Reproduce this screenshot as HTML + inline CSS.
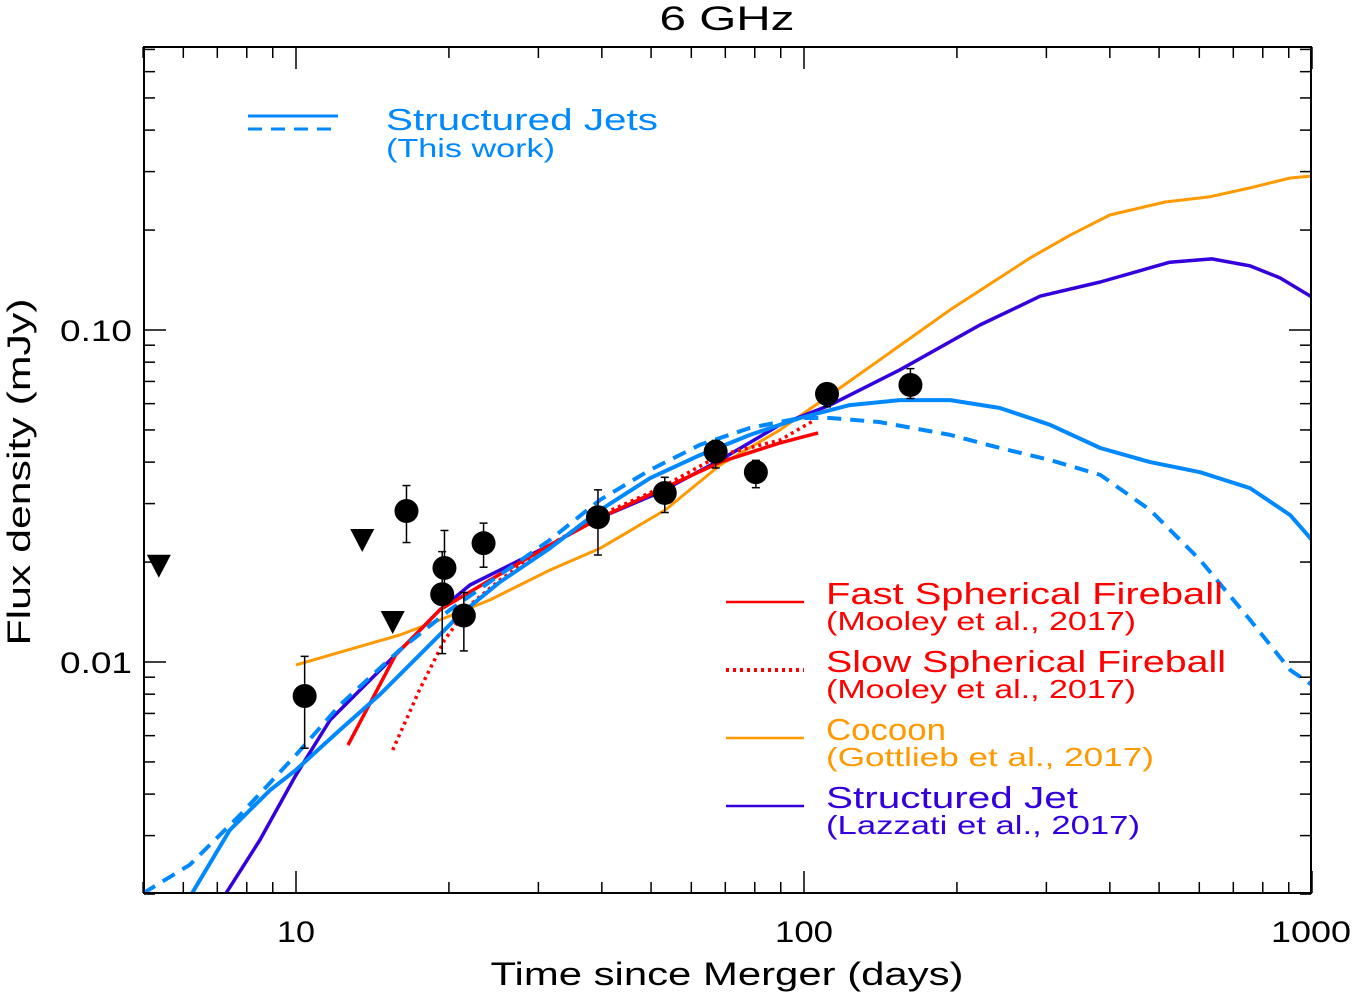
<!DOCTYPE html>
<html><head><meta charset="utf-8"><style>
html,body{margin:0;padding:0;background:#fff;}
svg{display:block;font-family:"Liberation Sans",sans-serif;}
</style></head><body>
<svg id="chart" width="1352" height="994" viewBox="0 0 1352 994"></svg>
<script>
const blueSolidT=[6.24,7.41,8.89,10,12.2,14.6,17.5,21.0,25.2,31.6,39.7,49.8,62.4,78.3,98.2,123,154.5,194,243,305,383,480,602,755,906,1000];
const blueSolidF=[0.00201,0.00312,0.00411,0.00473,0.00624,0.00796,0.0105,0.01387,0.0174,0.0220,0.0287,0.0358,0.042,0.0483,0.0543,0.0594,0.0615,0.0615,0.0582,0.0518,0.0441,0.040,0.0373,0.0334,0.0277,0.0233];
const blueDashT=[5,6.18,7.76,10,12.2,16.0,20.1,25.2,31.6,39.7,49.8,62.4,78.3,98.2,112.5,141,194,243,305,383,480,602,755,906,1000];
const blueDashF=[0.00201,0.00245,0.00346,0.00525,0.00742,0.01087,0.01436,0.0183,0.0233,0.0308,0.0379,0.0451,0.0507,0.0543,0.0543,0.0528,0.0483,0.0441,0.0406,0.0366,0.0287,0.0203,0.0134,0.00946,0.00853];
const cocoonT=[10,16.0,19.2,24.1,31.6,39.7,53.3,68.4,89.7,112.5,141,194,279,334,400,514,630,755,906,1000];
const cocoonF=[0.0098,0.01206,0.01339,0.01538,0.01892,0.0220,0.0287,0.0392,0.050,0.0637,0.0813,0.115,0.165,0.193,0.222,0.243,0.252,0.268,0.287,0.291];
const lazzatiT=[7.28,8.49,10,11.67,14.0,16.8,19.2,22.0,26.4,31.6,39.7,52.1,68.4,89.7,112.5,154.5,222,292,383,525,635,755,865,1000];
const lazzatiF=[0.00201,0.00291,0.00457,0.00669,0.00883,0.01165,0.01436,0.01706,0.0196,0.0225,0.0272,0.0325,0.0406,0.0518,0.0594,0.0759,0.1035,0.1265,0.1395,0.160,0.1637,0.156,0.1435,0.1256];
const fastT=[12.66,14.1,15.7,19.2,24.1,31.6,39.7,52.1,68.4,89.7,106.6];
const fastF=[0.00562,0.00769,0.0105,0.01436,0.01766,0.0225,0.0272,0.033,0.040,0.0457,0.049];
const slowT=[15.5,17.5,19.6,22.0,25.2,31.6,39.7,52.1,68.4,89.7,105];
const slowF=[0.00543,0.00824,0.01165,0.01486,0.01766,0.0225,0.0277,0.0334,0.042,0.0466,0.0536];
const obsT=[10.4,16.5,19.6,19.4,21.4,23.4,39.3,53.2,67.0,80.4,111,162];
const obsF=[0.0079,0.0285,0.0192,0.016,0.0138,0.0228,0.0273,0.0323,0.043,0.0373,0.0642,0.0683];
const obsHi=[0.0104,0.034,0.0249,0.0215,0.0162,0.0262,0.0330,0.0360,0.0465,0.0405,0.0688,0.0765];
const obsLo=[0.0055,0.0229,0.0165,0.0106,0.0108,0.0193,0.0210,0.0282,0.0384,0.0335,0.0587,0.0622];
const limT=[5.37,13.5,15.5];
const limF=[0.0195,0.0233,0.0132];
const xTickVals=[10,100,1000];
const xTickLabels=["10","100","1000"];
const yTickVals=[0.01,0.1];
const yTickLabels=["0.01","0.10"];

const NS="http://www.w3.org/2000/svg";
const svg=document.getElementById('chart');
const L=144,R=1311,T=47,B=893;
function X(t){return 296+508*(Math.log10(t)-1);}
function Y(f){return 330-332*(Math.log10(f)+1);}
function mk(tag,attrs,parent){const e=document.createElementNS(NS,tag);for(const k in attrs)e.setAttribute(k,attrs[k]);(parent||svg).appendChild(e);return e;}

const defs=mk('defs',{});
const cp=mk('clipPath',{id:'clip'},defs);
mk('rect',{x:L,y:T,width:R-L,height:B-T},cp);
const plot=mk('g',{'clip-path':'url(#clip)'});



function line(ts,fs,color,w,dash,name){
  const d=ts.map((t,i)=>(i?'L':'M')+X(t).toFixed(1)+' '+Y(fs[i]).toFixed(1)).join(' ');
  const p=mk('path',{d:d,fill:'none',stroke:color,'stroke-width':w,'stroke-dasharray':dash||'none','stroke-linejoin':'round'},plot);
  
  
}
line(cocoonT,cocoonF,'#ff9900',3,null,'cocoon-curve');
line(lazzatiT,lazzatiF,'#3300dd',3.5,null,'lazzati-jet-curve');
line(fastT,fastF,'#ff0000',3.5,null,'fast-fireball-curve');
line(slowT,slowF,'#ff0000',3.5,'3 4','slow-fireball-curve');
line(blueSolidT,blueSolidF,'#0088ff',4,null,'structured-jet-solid-curve');
line(blueDashT,blueDashF,'#0088ff',4,'14 9','structured-jet-dashed-curve');

obsT.forEach((t,i)=>{
  const x=X(t);
  const g=mk('g',{},plot);
  
  
  mk('line',{x1:x,x2:x,y1:Y(obsHi[i]),y2:Y(obsLo[i]),stroke:'#000','stroke-width':1.5},g);
  mk('line',{x1:x-4,x2:x+4,y1:Y(obsHi[i]),y2:Y(obsHi[i]),stroke:'#000','stroke-width':1.5},g);
  mk('line',{x1:x-4,x2:x+4,y1:Y(obsLo[i]),y2:Y(obsLo[i]),stroke:'#000','stroke-width':1.5},g);
  mk('circle',{cx:x,cy:Y(obsF[i]),r:12,fill:'#000'},g);
});
limT.forEach((t,i)=>{
  const x=X(t),y=Y(limF[i]);
  const p=mk('path',{d:`M${x-12} ${y-11} L${x+12} ${y-11} L${x} ${y+12} Z`,fill:'#000'},plot);
  
  
});

const fr=mk('rect',{x:L,y:T,width:R-L,height:B-T,fill:'none',stroke:'#000','stroke-width':2});


const ticks=mk('g',{stroke:'#000','stroke-width':1.5});


for(let dec=1;dec<=1000;dec*=10){
  for(let m=1;m<10;m++){
    const t=dec*m; if(t<5||t>1000) continue;
    const x=X(t), len=(m===1)?22:11;
    mk('line',{x1:x,x2:x,y1:B,y2:B-len},ticks);
    mk('line',{x1:x,x2:x,y1:T,y2:T+len},ticks);
  }
}
for(let dec=0.001;dec<1;dec*=10){
  for(let m=1;m<10;m++){
    const f=dec*m; if(f<0.00199||f>0.72) continue;
    const y=Y(f), len=(m===1)?22:11;
    mk('line',{x1:L,x2:L+len,y1:y,y2:y},ticks);
    mk('line',{x1:R,x2:R-len,y1:y,y2:y},ticks);
  }
}
function txt(s,x,y,size,color,anchor,name,len,rot){
  const e=mk('text',{x:x,y:y,'font-size':size,fill:color,'text-anchor':anchor||'start'});
  if(len){e.setAttribute('textLength',len);e.setAttribute('lengthAdjust','spacingAndGlyphs');}
  if(rot) e.setAttribute('transform',`rotate(-90 ${x} ${y})`);
  e.textContent=s;
  
  
  return e;
}
const xLen=[38,58,80];
xTickVals.forEach((v,i)=>txt(xTickLabels[i],X(v)+ (i===2?-1:0),942,30,'#000','middle','x-tick-label',xLen[i]));
yTickVals.forEach((v,i)=>txt(yTickLabels[i],132,Y(v)+11,30,'#000','end','y-tick-label',72));
txt('Time since Merger (days)',727,985,32,'#000','middle','x-axis-title',473);
txt('Flux density (mJy)',30,472,32,'#000','middle','y-axis-title',347,true);
txt('6 GHz',727,30,34,'#000','middle','chart-title',135);

function lg(x1,x2,y,color,w,dash,name){
  const e=mk('line',{x1:x1,x2:x2,y1:y,y2:y,stroke:color,'stroke-width':w,'stroke-dasharray':dash||'none'});
  
  
}
lg(248,338,116,'#0088ff',3,null,'legend-structured-solid');
lg(248,338,129,'#0088ff',3,'14 9','legend-structured-dashed');
txt('Structured Jets',386,130,31,'#0088ff','start','legend-structured-jets',272);
txt('(This work)',386,157,26,'#0088ff','start','legend-this-work',169);

const items=[['#ff0000',null,'Fast Spherical Fireball','(Mooley et al., 2017)',397,310],
['#ff0000','3 4','Slow Spherical Fireball','(Mooley et al., 2017)',400,310],
['#ff9900',null,'Cocoon','(Gottlieb et al., 2017)',120,328],
['#3300dd',null,'Structured Jet','(Lazzati et al., 2017)',252,314]];
items.forEach((it,i)=>{
  const y=602+68*i;
  lg(726,804,y,it[0],it[1]?4:2.5,it[1],'legend-line');
  txt(it[2],826,y+2,31,it[0],'start','legend-label',it[4]);
  txt(it[3],826,y+28,26,it[0],'start','legend-reference',it[5]);
});
</script>
</body></html>
